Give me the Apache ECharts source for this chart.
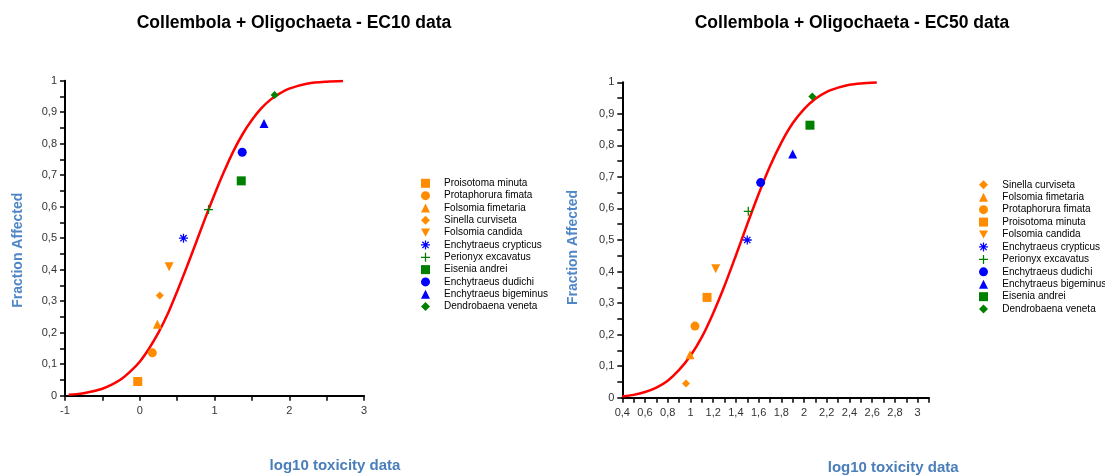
<!DOCTYPE html>
<html>
<head>
<meta charset="utf-8">
<script src="https://cdn.jsdelivr.net/npm/echarts@6/dist/echarts.min.js"></script>
<style>
  html, body { margin: 0; padding: 0; background: #fff; }
  #chart { width: 1105px; height: 475px; }
</style>
</head>
<body>
<div id="chart"></div>
<script>
// EC10 data (left chart), in legend order
var ec10Species = ['Proisotoma minuta', 'Protaphorura fimata', 'Folsomia fimetaria', 'Sinella curviseta',
  'Folsomia candida', 'Enchytraeus crypticus', 'Perionyx excavatus', 'Eisenia andrei',
  'Enchytraeus dudichi', 'Enchytraeus bigeminus', 'Dendrobaena veneta'];
var ec10Log = [-0.027, 0.169, 0.236, 0.268, 0.393, 0.585, 0.92, 1.358, 1.371, 1.662, 1.804];
var ec10Frac = [0.045, 0.136, 0.227, 0.318, 0.409, 0.5, 0.591, 0.682, 0.773, 0.864, 0.955];
// fitted curve
var ec10CurveX = [-0.95, -0.85, -0.75, -0.625, -0.5, -0.375, -0.25, -0.125, 0, 0.125, 0.25, 0.375, 0.5, 0.625,
  0.75, 0.875, 1.0, 1.125, 1.25, 1.375, 1.5, 1.625, 1.75, 1.875, 2.0, 2.25, 2.5, 2.72];
var ec10CurveY = [0.003, 0.005, 0.008, 0.014, 0.022, 0.035, 0.052, 0.077, 0.108, 0.15, 0.2, 0.26, 0.331, 0.406,
  0.484, 0.563, 0.639, 0.71, 0.775, 0.83, 0.875, 0.912, 0.94, 0.96, 0.975, 0.991, 0.997, 0.999];

// EC50 data (right chart), in legend order
var ec50Species = ['Sinella curviseta', 'Folsomia fimetaria', 'Protaphorura fimata', 'Proisotoma minuta',
  'Folsomia candida', 'Enchytraeus crypticus', 'Perionyx excavatus', 'Enchytraeus dudichi',
  'Enchytraeus bigeminus', 'Eisenia andrei', 'Dendrobaena veneta'];
var ec50Log = [0.961, 0.996, 1.04, 1.146, 1.222, 1.50, 1.509, 1.618, 1.90, 2.052, 2.073];
var ec50Frac = [0.045, 0.136, 0.227, 0.318, 0.409, 0.5, 0.591, 0.682, 0.773, 0.864, 0.955];
var ec50CurveX = [0.4, 0.5, 0.6, 0.7, 0.8, 0.9, 1.0, 1.1, 1.2, 1.3, 1.4, 1.5, 1.6, 1.7, 1.8, 1.9, 2.0,
  2.1, 2.2, 2.3, 2.4, 2.5, 2.64];
var ec50CurveY = [0.004, 0.009, 0.018, 0.032, 0.054, 0.088, 0.133, 0.192, 0.268, 0.355, 0.451, 0.55, 0.646,
  0.734, 0.809, 0.87, 0.915, 0.948, 0.97, 0.983, 0.992, 0.996, 0.999];

// marker styles
var DIAMOND = 'path://M5,0L10,5L5,10L0,5Z';
var DOWNTRI = 'path://M0,0L10,0L5,9Z';
var PLUS = 'path://M4.3,0L5.7,0L5.7,10L4.3,10ZM0,4.3L10,4.3L10,5.7L0,5.7Z';
var STAR = 'path://M4.3,0L5.7,0L5.7,10L4.3,10ZM0,4.3L10,4.3L10,5.7L0,5.7ZM1,2L2,1L9,8L8,9ZM8,1L9,2L2,9L1,8Z';
var ORANGE = '#ff8c00', BLUE = '#0000ff', GREEN = '#008000';
var styles = {
  'Proisotoma minuta': ['rect', ORANGE, 9],
  'Protaphorura fimata': ['circle', ORANGE, 9],
  'Folsomia fimetaria': ['triangle', ORANGE, 9],
  'Sinella curviseta': [DIAMOND, ORANGE, 8],
  'Folsomia candida': [DOWNTRI, ORANGE, 9],
  'Enchytraeus crypticus': [STAR, BLUE, 9],
  'Perionyx excavatus': [PLUS, GREEN, 9],
  'Eisenia andrei': ['rect', GREEN, 9],
  'Enchytraeus dudichi': ['circle', BLUE, 9],
  'Enchytraeus bigeminus': ['triangle', BLUE, 9],
  'Dendrobaena veneta': [DIAMOND, GREEN, 8]
};

function comma(v) {
  return String(Math.round(v * 10) / 10).replace('.', ',');
}

var chart = echarts.init(document.getElementById('chart'));

var axisCommon = {
  axisLine: { onZero: false, lineStyle: { color: '#000', width: 2 } },
  axisTick: { length: 5, lineStyle: { color: '#000', width: 1.5 } },
  splitLine: { show: false },
  axisLabel: { color: '#333', fontSize: 11, fontFamily: 'Arial' }
};

function yAxis(grid, gap, pad) {
  return echarts.util.merge({
    type: 'value', gridIndex: grid, min: 0, max: 1, interval: 0.1,
    name: 'Fraction Affected', nameLocation: 'middle', nameGap: gap,
    nameTextStyle: { color: '#4f86c6', fontSize: 14, fontWeight: 'bold', fontFamily: 'Arial', padding: [0, pad, 0, 0] },
    minorTick: { show: true, splitNumber: 2, length: 5, lineStyle: { color: '#000', width: 1.5 } },
    axisLabel: { margin: 8, formatter: comma }
  }, axisCommon, false);
}

var series = [];
ec10Species.forEach(function (name, i) {
  var s = styles[name];
  series.push({
    name: name, type: 'scatter', xAxisIndex: 0, yAxisIndex: 0,
    symbol: s[0], symbolSize: s[2], itemStyle: { color: s[1], opacity: 1 },
    data: [[ec10Log[i], ec10Frac[i]]], z: 3
  });
});
ec50Species.forEach(function (name, i) {
  var s = styles[name];
  series.push({
    name: name, type: 'scatter', xAxisIndex: 1, yAxisIndex: 1,
    symbol: s[0], symbolSize: s[2], itemStyle: { color: s[1], opacity: 1 },
    data: [[ec50Log[i], ec50Frac[i]]], z: 3
  });
});
series.push({
  name: 'EC10 fit', type: 'line', xAxisIndex: 0, yAxisIndex: 0, smooth: 0.3,
  showSymbol: false, symbol: 'none', lineStyle: { color: '#ff0000', width: 2.5 },
  data: ec10CurveX.map(function (x, i) { return [x, ec10CurveY[i]]; }), z: 2
});
series.push({
  name: 'EC50 fit', type: 'line', xAxisIndex: 1, yAxisIndex: 1, smooth: 0.3,
  showSymbol: false, symbol: 'none', lineStyle: { color: '#ff0000', width: 2.5 },
  data: ec50CurveX.map(function (x, i) { return [x, ec50CurveY[i]]; }), z: 2
});

var titleText = { color: '#000', fontSize: 17.5, fontWeight: 'bold', fontFamily: 'Arial' };
var xNameText = { color: '#4a7ebb', fontSize: 15, fontWeight: 'bold', fontFamily: 'Arial' };

var option = {
  animation: false,
  backgroundColor: '#fff',
  title: [{
    text: 'Collembola + Oligochaeta - EC10 data', left: 289, top: 9, textAlign: 'center', textStyle: titleText
  }, {
    text: 'Collembola + Oligochaeta - EC50 data', left: 847, top: 9, textAlign: 'center', textStyle: titleText
  }],
  legend: [{
    data: ec10Species, orient: 'vertical', left: 421, top: 177.3, padding: 0,
    itemWidth: 9, itemHeight: 9, itemGap: 0.33,
    textStyle: { color: '#000', fontSize: 10, fontFamily: 'Arial', lineHeight: 12, padding: [0, 0, 0, 9] },
    selectedMode: false
  }, {
    data: ec50Species, orient: 'vertical', left: 979, top: 178.8, padding: 0,
    itemWidth: 9, itemHeight: 9, itemGap: 0.43,
    textStyle: { color: '#000', fontSize: 10, fontFamily: 'Arial', lineHeight: 12, padding: [0, 0, 0, 9.3] },
    selectedMode: false
  }],
  grid: [
    { left: 65, top: 80.7, width: 299, height: 315, outerBoundsMode: 'none' },
    { left: 622.3, top: 82.3, width: 306.7, height: 315.4, outerBoundsMode: 'none' }
  ],
  xAxis: [
    echarts.util.merge({
      type: 'value', gridIndex: 0, min: -1, max: 3, interval: 1,
      name: 'log10 toxicity data', nameLocation: 'middle', nameGap: 63,
      nameTextStyle: echarts.util.extend({ padding: [0, 0, 0, 241] }, xNameText),
      minorTick: { show: true, splitNumber: 2, length: 5, lineStyle: { color: '#000', width: 1.5 } },
      axisLabel: { margin: 10, formatter: comma }
    }, axisCommon, false),
    echarts.util.merge({
      type: 'value', gridIndex: 1, min: 0.4, max: 3.1, interval: 0.1,
      name: 'log10 toxicity data', nameLocation: 'middle', nameGap: 63,
      nameTextStyle: echarts.util.extend({ padding: [0, 0, 0, 235] }, xNameText),
      axisLabel: {
        margin: 10,
        formatter: function (v) { return Math.round(v * 10) % 2 === 0 ? comma(v) : ''; }
      }
    }, axisCommon, false)
  ],
  yAxis: [yAxis(0, 40, 24), yAxis(1, 42, 15)],
  series: series
};

chart.setOption(option);
</script>
</body>
</html>
